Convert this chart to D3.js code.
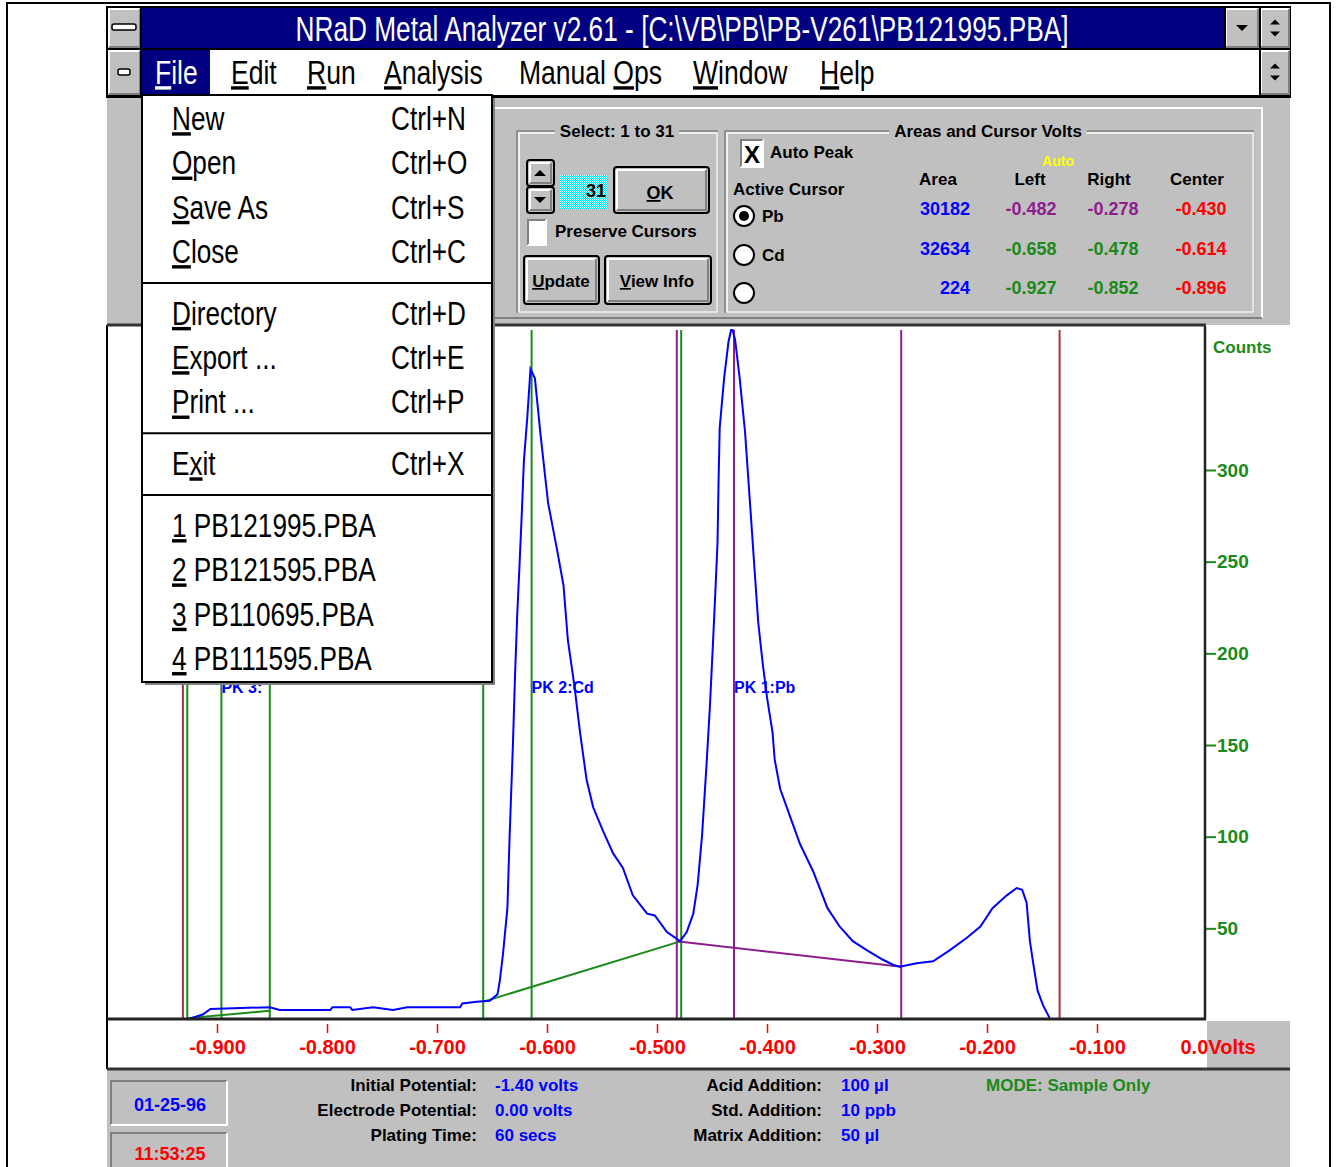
<!DOCTYPE html>
<html>
<head>
<meta charset="utf-8">
<script src="https://cdnjs.cloudflare.com/ajax/libs/d3/7.8.5/d3.min.js"></script>
<style>
  body { margin: 0; background: #fff; }
  svg { display: block; }
</style>
</head>
<body>
<svg id="chart"></svg>
<script>
const width = 1336;
const height = 1167;

// stripping scan (volts, counts)
const traceVolts = [
  -0.926, -0.913, -0.906, -0.852, -0.843, -0.797, -0.795, -0.779, -0.777, -0.758,
  -0.740, -0.727, -0.679, -0.677, -0.664, -0.652, -0.645, -0.643, -0.640, -0.636,
  -0.634, -0.631, -0.629, -0.627, -0.625, -0.623, -0.621, -0.618, -0.615, -0.611,
  -0.606, -0.599, -0.591, -0.585, -0.581, -0.575, -0.570, -0.564, -0.558, -0.549,
  -0.540, -0.531, -0.522, -0.509, -0.502, -0.491, -0.479, -0.473, -0.467, -0.463,
  -0.459, -0.455, -0.452, -0.449, -0.447, -0.445, -0.444, -0.443, -0.439, -0.435,
  -0.432, -0.429, -0.425, -0.420, -0.415, -0.411, -0.408, -0.404, -0.400, -0.395,
  -0.393, -0.388, -0.382, -0.370, -0.358, -0.345, -0.334, -0.322, -0.309, -0.295,
  -0.285, -0.279, -0.264, -0.249, -0.234, -0.218, -0.206, -0.195, -0.182, -0.173,
  -0.168, -0.164, -0.161, -0.158, -0.154, -0.149, -0.143
];
const traceCounts = [
  0.5, 3, 6, 7, 5.5, 5.5, 7, 7, 5.5, 7,
  5.5, 7, 7, 9, 10, 10.5, 14, 21, 36, 61,
  100, 150, 189, 222, 248, 275, 305, 328, 355, 350,
  320, 282, 257, 237, 207, 182, 157, 131, 116, 103,
  91, 83, 68, 58, 57, 48, 43, 48, 58, 74,
  101, 139, 170, 207, 233, 260, 295, 323, 350, 370,
  378, 371, 351, 321, 278, 243, 217, 195, 176, 157,
  142, 126, 116, 96, 81, 61, 51, 43, 38, 33,
  30, 29, 31, 32, 38, 45, 51, 61, 68, 72,
  71, 64, 43, 31, 16, 8, 1
];

const xTickValues = [-0.9, -0.8, -0.7, -0.6, -0.5, -0.4, -0.3, -0.2, -0.1, 0];
const xTickLabels = ["-0.900", "-0.800", "-0.700", "-0.600", "-0.500", "-0.400", "-0.300", "-0.200", "-0.100", "0.0Volts"];
const yTickValues = [50, 100, 150, 200, 250, 300];

// peaks: Pb, Cd, unnamed third
const peakNames = ["PK 1:Pb", "PK 2:Cd", "PK 3:"];
const peakAreas = [30182, 32634, 224];
const peakLeft = [-0.482, -0.658, -0.927];
const peakRight = [-0.278, -0.478, -0.852];
const peakCenter = [-0.430, -0.614, -0.896];
const baseLeftCounts = [43, 10, 1];
const baseRightCounts = [29, 43, 5];
const scanLimits = [-0.931, -0.134];

const menuBarItems = ["File", "Edit", "Run", "Analysis", "Manual Ops", "Window", "Help"];
const menuBarKeys = [0, 0, 0, 0, 7, 0, 0];
const fileMenuLabels = ["New", "Open", "Save As", "Close", "Directory", "Export ...", "Print ...", "Exit",
  "1 PB121995.PBA", "2 PB121595.PBA", "3 PB110695.PBA", "4 PB111595.PBA"];
const fileMenuKeys = [0, 0, 0, 0, 0, 0, 0, 1, 0, 0, 0, 0];
const fileMenuShortcuts = ["Ctrl+N", "Ctrl+O", "Ctrl+S", "Ctrl+C", "Ctrl+D", "Ctrl+E", "Ctrl+P", "Ctrl+X", "", "", "", ""];
const fileMenuGroups = [0, 0, 0, 0, 1, 1, 1, 2, 3, 3, 3, 3];

const infoLabels = ["Initial Potential:", "Electrode Potential:", "Plating Time:"];
const infoValues = ["-1.40 volts", "0.00 volts", "60 secs"];
const addLabels = ["Acid Addition:", "Std. Addition:", "Matrix Addition:"];
const addValues = ["100 \u00b5l", "10 ppb", "50 \u00b5l"];

const FONT = "'Liberation Sans', Arial, Helvetica, sans-serif";
const GRAY = "#c0c0c0";
const NAVY = "#000080";
const BLUE = "#0000ff";
const GREEN = "#1a8a1a";
const PURPLE = "#8e1e8e";
const BROWN = "#a03535";

document.addEventListener("DOMContentLoaded", function() {
  const svg = d3.select("#chart")
                .attr("width", width)
                .attr("height", height);

  function txt(g, x, y, s, o = {}) {
    let t = g.append("text")
      .attr("transform", `translate(${x},${y}) scale(${o.sx || 1},1)`)
      .attr("text-anchor", o.anchor || "start")
      .attr("font-family", FONT)
      .attr("font-size", o.size || 17)
      .attr("font-weight", o.weight || "bold")
      .attr("fill", o.fill || "#000");
    if (o.key === undefined) {
      t.text(s);
    } else {
      t.append("tspan").text(s.slice(0, o.key));
      t.append("tspan").style("text-decoration", "underline").text(s.charAt(o.key));
      t.append("tspan").text(s.slice(o.key + 1));
    }
    return t;
  }

  function bevel(g, x, y, w, h, raised, fill) {
    g.append("rect").attr("x", x).attr("y", y).attr("width", w).attr("height", h).attr("fill", fill || GRAY);
    g.append("path").attr("d", `M${x + 1},${y + h - 1}V${y + 1}H${x + w - 1}`)
      .attr("fill", "none").attr("stroke", raised ? "#fff" : "#808080").attr("stroke-width", 2);
    g.append("path").attr("d", `M${x + 1},${y + h - 1}H${x + w - 1}V${y + 1}`)
      .attr("fill", "none").attr("stroke", raised ? "#808080" : "#fff").attr("stroke-width", 2);
  }

  function button(g, x, y, w, h) {
    g.append("rect").attr("x", x).attr("y", y).attr("width", w).attr("height", h).attr("rx", 3)
      .attr("fill", GRAY).attr("stroke", "#000").attr("stroke-width", 2);
    bevel(g, x + 2, y + 2, w - 4, h - 4, true);
  }

  function tri(g, cx, cy, s, up) {
    let d = up ? `M${cx - s},${cy + s / 2}L${cx + s},${cy + s / 2}L${cx},${cy - s / 2}Z`
               : `M${cx - s},${cy - s / 2}L${cx + s},${cy - s / 2}L${cx},${cy + s / 2}Z`;
    g.append("path").attr("d", d).attr("fill", "#000");
  }

  function groupBox(g, x, y, w, h, title, cx) {
    g.append("rect").attr("x", x).attr("y", y).attr("width", w).attr("height", h)
      .attr("fill", "none").attr("stroke", "#808080").attr("stroke-width", 1.5);
    g.append("rect").attr("x", x + 2).attr("y", y + 2).attr("width", w - 2).attr("height", h - 2)
      .attr("fill", "none").attr("stroke", "#fff").attr("stroke-width", 1.5);
    let t = txt(g, cx, y + 6, title, {anchor: "middle"});
    let bb = t.node().getBBox();
    g.insert("rect", () => t.node())
      .attr("x", cx + bb.x - 5).attr("y", y - 4).attr("width", bb.width + 10).attr("height", 10)
      .attr("fill", GRAY);
  }

  let defs = svg.append("defs");
  defs.append("clipPath").attr("id", "plot-clip")
    .append("rect").attr("x", 108).attr("y", 329).attr("width", 1097).attr("height", 690);
  let dither = defs.append("pattern").attr("id", "dither")
    .attr("width", 2).attr("height", 2).attr("patternUnits", "userSpaceOnUse");
  dither.append("rect").attr("width", 2).attr("height", 2).attr("fill", "#c8ffff");
  dither.append("rect").attr("width", 1).attr("height", 1).attr("fill", "#00e8f0");
  dither.append("rect").attr("x", 1).attr("y", 1).attr("width", 1).attr("height", 1).attr("fill", "#00e8f0");

  // page
  svg.append("rect").attr("width", width).attr("height", height).attr("fill", "#fff");
  svg.append("rect").attr("x", 7).attr("y", 3).attr("width", 1323).attr("height", 1170)
    .attr("fill", "none").attr("stroke", "#000").attr("stroke-width", 2);

  //scales
  let x = d3.scaleLinear().domain([-1, 0]).range([107, 1207]);
  let y = d3.scaleLinear().domain([0, 378]).range([1020, 327]);

  // plot
  let plot = svg.append("g").attr("clip-path", "url(#plot-clip)");

  plot.selectAll(".limit")
    .data(scanLimits)
    .enter()
    .append("line")
      .attr("x1", d => x(d)).attr("x2", d => x(d))
      .attr("y1", 330).attr("y2", 1019)
      .attr("stroke", BROWN).attr("stroke-width", 2);

  let peakIdx = d3.range(peakNames.length).reverse();
  peakIdx.forEach(i => {
    let col = i === 0 ? PURPLE : GREEN;
    [peakLeft[i], peakCenter[i], peakRight[i]].forEach(v => {
      plot.append("line")
        .attr("x1", x(v)).attr("x2", x(v))
        .attr("y1", 330).attr("y2", 1019)
        .attr("stroke", col).attr("stroke-width", 2);
    });
  });

  let baseLine = d3.line().x(d => x(d[0])).y(d => y(d[1]));
  peakIdx.forEach(i => {
    plot.append("path")
      .attr("d", baseLine([[peakLeft[i], baseLeftCounts[i]], [peakRight[i], baseRightCounts[i]]]))
      .attr("fill", "none")
      .attr("stroke", i === 0 ? PURPLE : GREEN)
      .attr("stroke-width", 2);
  });

  let trace = d3.line()
    .x(d => x(d[0]))
    .y(d => y(d[1]));
  plot.append("path")
    .attr("d", trace(d3.zip(traceVolts, traceCounts)))
    .attr("fill", "none")
    .attr("stroke", BLUE)
    .attr("stroke-width", 2);

  peakIdx.forEach(i => {
    txt(plot, x(peakCenter[i]), 693, peakNames[i], {size: 16, fill: BLUE});
  });

  // gray strip under the count axis
  svg.append("rect").attr("x", 1207).attr("y", 1021).attr("width", 83).attr("height", 48).attr("fill", GRAY);

  // axes
  let xAxis = d3.axisBottom(x)
    .tickValues(xTickValues)
    .tickFormat((d, i) => xTickLabels[i])
    .tickSize(9)
    .tickPadding(7);
  let xAxisG = svg.append("g")
    .attr("transform", "translate(0,1024)")
    .call(xAxis)
    .attr("font-family", FONT)
    .attr("font-size", 20)
    .attr("font-weight", "bold");
  xAxisG.select(".domain").remove();
  xAxisG.selectAll(".tick line").attr("stroke", "#f00").attr("stroke-width", 1.5);
  xAxisG.selectAll(".tick text").attr("fill", "#f00");
  xAxisG.selectAll(".tick").filter(d => d === 0).each(function() {
    d3.select(this).select("line").remove();
    d3.select(this).select("text").attr("text-anchor", "start").attr("x", -27);
  });

  let yAxis = d3.axisRight(y)
    .tickValues(yTickValues)
    .tickSize(10)
    .tickPadding(1);
  let yAxisG = svg.append("g")
    .attr("transform", "translate(1206,0)")
    .call(yAxis)
    .attr("font-family", FONT)
    .attr("font-size", 19)
    .attr("font-weight", "bold");
  yAxisG.select(".domain").remove();
  yAxisG.selectAll(".tick line").attr("stroke", GREEN).attr("stroke-width", 2);
  yAxisG.selectAll(".tick text").attr("fill", GREEN);
  txt(svg, 1213, 353, "Counts", {fill: GREEN, size: 17});

  // plot frame
  svg.append("path").attr("d", "M107,325V1069").attr("stroke", "#000").attr("stroke-width", 2);
  svg.append("path").attr("d", "M1205,326V1020").attr("stroke", "#222").attr("stroke-width", 2.5);
  svg.append("path").attr("d", "M107,1019H1206").attr("stroke", "#222").attr("stroke-width", 3);

  // bottom status panel
  let bottom = svg.append("g");
  bottom.append("rect").attr("x", 107).attr("y", 1068).attr("width", 1183).attr("height", 105).attr("fill", GRAY);
  bottom.append("path").attr("d", "M107,1069H1290").attr("stroke", "#333").attr("stroke-width", 3);
  bevel(bottom, 110, 1080, 118, 46, false);
  bevel(bottom, 110, 1132, 118, 40, false);
  txt(bottom, 170, 1111, "01-25-96", {anchor: "middle", fill: BLUE, size: 18});
  txt(bottom, 170, 1160, "11:53:25", {anchor: "middle", fill: "#f00", size: 18});
  infoLabels.forEach((s, i) => {
    txt(bottom, 477, 1091 + i * 25, s, {anchor: "end"});
    txt(bottom, 495, 1091 + i * 25, infoValues[i], {fill: BLUE});
  });
  addLabels.forEach((s, i) => {
    txt(bottom, 822, 1091 + i * 25, s, {anchor: "end"});
    txt(bottom, 841, 1091 + i * 25, addValues[i], {fill: BLUE});
  });
  txt(bottom, 986, 1091, "MODE: Sample Only", {fill: GREEN});

  // top control panel
  let top = svg.append("g");
  top.append("rect").attr("x", 107).attr("y", 96).attr("width", 1183).attr("height", 229).attr("fill", GRAY);
  top.append("path").attr("d", "M107,325H1206").attr("stroke", "#333").attr("stroke-width", 3);
  top.append("path").attr("d", "M492,318V108H1262V318").attr("fill", "none").attr("stroke", "#fff").attr("stroke-width", 2);
  top.append("path").attr("d", "M492,318H1262").attr("fill", "none").attr("stroke", "#808080").attr("stroke-width", 2);

  groupBox(top, 517, 131, 200, 181, "Select: 1 to 31", 617);
  button(top, 527, 160, 27, 26);
  button(top, 527, 187, 27, 26);
  tri(top, 540, 173, 6, true);
  tri(top, 540, 200, 6, false);
  top.append("rect").attr("x", 560).attr("y", 175).attr("width", 48).attr("height", 34).attr("fill", "url(#dither)");
  txt(top, 606, 197, "31", {anchor: "end", size: 18});
  button(top, 614, 167, 95, 46);
  txt(top, 660, 199, "OK", {anchor: "middle", key: 0, size: 18});
  bevel(top, 527, 219, 20, 27, false, "#fff");
  txt(top, 555, 237, "Preserve Cursors");
  button(top, 524, 256, 75, 48);
  txt(top, 561, 287, "Update", {anchor: "middle", key: 0});
  button(top, 605, 256, 106, 48);
  txt(top, 657, 287, "View Info", {anchor: "middle", key: 0});

  groupBox(top, 725, 131, 528, 181, "Areas and Cursor Volts", 988);
  bevel(top, 740, 139, 24, 29, false, "#fff");
  txt(top, 752, 163, "X", {anchor: "middle", size: 24});
  txt(top, 770, 158, "Auto Peak");
  txt(top, 1058, 166, "Auto", {anchor: "middle", fill: "#ffff00", size: 14});
  txt(top, 733, 195, "Active Cursor");
  [216, 255, 293].forEach((cy, i) => {
    top.append("circle").attr("cx", 744).attr("cy", cy).attr("r", 10)
      .attr("fill", "#fff").attr("stroke", "#000").attr("stroke-width", 2);
    if (i === 0) top.append("circle").attr("cx", 744).attr("cy", cy).attr("r", 5).attr("fill", "#000");
  });
  txt(top, 762, 222, "Pb");
  txt(top, 762, 261, "Cd");
  [["Area", 938], ["Left", 1030], ["Right", 1109], ["Center", 1197]].forEach(h => {
    txt(top, h[1], 185, h[0], {anchor: "middle"});
  });
  let fmt = v => d3.format(".3f")(v).replace("\u2212", "-");
  d3.range(peakNames.length).forEach(i => {
    let ry = 215 + i * 39.5;
    let col = i === 0 ? PURPLE : GREEN;
    txt(top, 970, ry, peakAreas[i], {anchor: "end", fill: BLUE, size: 18});
    txt(top, 1031, ry, fmt(peakLeft[i]), {anchor: "middle", fill: col, size: 18});
    txt(top, 1113, ry, fmt(peakRight[i]), {anchor: "middle", fill: col, size: 18});
    txt(top, 1201, ry, fmt(peakCenter[i]), {anchor: "middle", fill: "#f00", size: 18});
  });

  // title bar and menu bar
  let bars = svg.append("g");
  bars.append("rect").attr("x", 107).attr("y", 7).attr("width", 1183).attr("height", 90)
    .attr("fill", "#fff").attr("stroke", "#000").attr("stroke-width", 2);
  bars.append("rect").attr("x", 141).attr("y", 8).attr("width", 1084).attr("height", 40).attr("fill", NAVY);
  bevel(bars, 108, 8, 33, 40, true);
  bars.append("rect").attr("x", 112).attr("y", 24).attr("width", 24).attr("height", 6).attr("rx", 2)
    .attr("fill", "#fff").attr("stroke", "#000").attr("stroke-width", 1.5);
  bevel(bars, 108, 50, 33, 45, true);
  bars.append("rect").attr("x", 118).attr("y", 69).attr("width", 12).attr("height", 6).attr("rx", 2)
    .attr("fill", "#fff").attr("stroke", "#000").attr("stroke-width", 1.5);
  bevel(bars, 1225, 8, 34, 40, true);
  tri(bars, 1242, 28, 6, false);
  bevel(bars, 1260, 8, 30, 40, true);
  tri(bars, 1275, 22, 5, true);
  tri(bars, 1275, 34, 5, false);
  bevel(bars, 1260, 50, 30, 45, true);
  tri(bars, 1275, 66, 5, true);
  tri(bars, 1275, 78, 5, false);
  bars.append("path").attr("d", "M107,49H1290M107,96H1290M141,7V97M1225,7V49M1260,7V97")
    .attr("stroke", "#000").attr("stroke-width", 2);
  txt(bars, 682, 41, "NRaD Metal Analyzer v2.61 - [C:\\VB\\PB\\PB-V261\\PB121995.PBA]",
      {anchor: "middle", fill: "#fff", size: 35, sx: 0.75, weight: "normal"});

  bars.append("rect").attr("x", 142).attr("y", 50).attr("width", 68).attr("height", 45).attr("fill", NAVY);
  let menuX = [155, 231, 307, 384, 519, 693, 820];
  menuBarItems.forEach((s, i) => {
    txt(bars, menuX[i], 84, s, {key: menuBarKeys[i], size: 34, sx: 0.78, weight: "normal", fill: i === 0 ? "#fff" : "#000"});
  });

  // File drop-down
  let menu = svg.append("g");
  menu.append("rect").attr("x", 145).attr("y", 98).attr("width", 350).attr("height", 587).attr("fill", "#808080");
  menu.append("rect").attr("x", 142).attr("y", 95).attr("width", 350).attr("height", 587)
    .attr("fill", "#fff").attr("stroke", "#000").attr("stroke-width", 2);
  fileMenuLabels.forEach((s, i) => {
    let by = 130 + i * 44.3 + fileMenuGroups[i] * 17.5;
    txt(menu, 172, by, s, {key: fileMenuKeys[i], size: 34, sx: 0.77, weight: "normal"});
    if (fileMenuShortcuts[i]) txt(menu, 391, by, fileMenuShortcuts[i], {size: 34, sx: 0.77, weight: "normal"});
    if (i < fileMenuLabels.length - 1 && fileMenuGroups[i + 1] !== fileMenuGroups[i]) {
      menu.append("path").attr("d", `M142,${by + 20}H492`).attr("stroke", "#000").attr("stroke-width", 2);
    }
  });
});
</script>
</body>
</html>
